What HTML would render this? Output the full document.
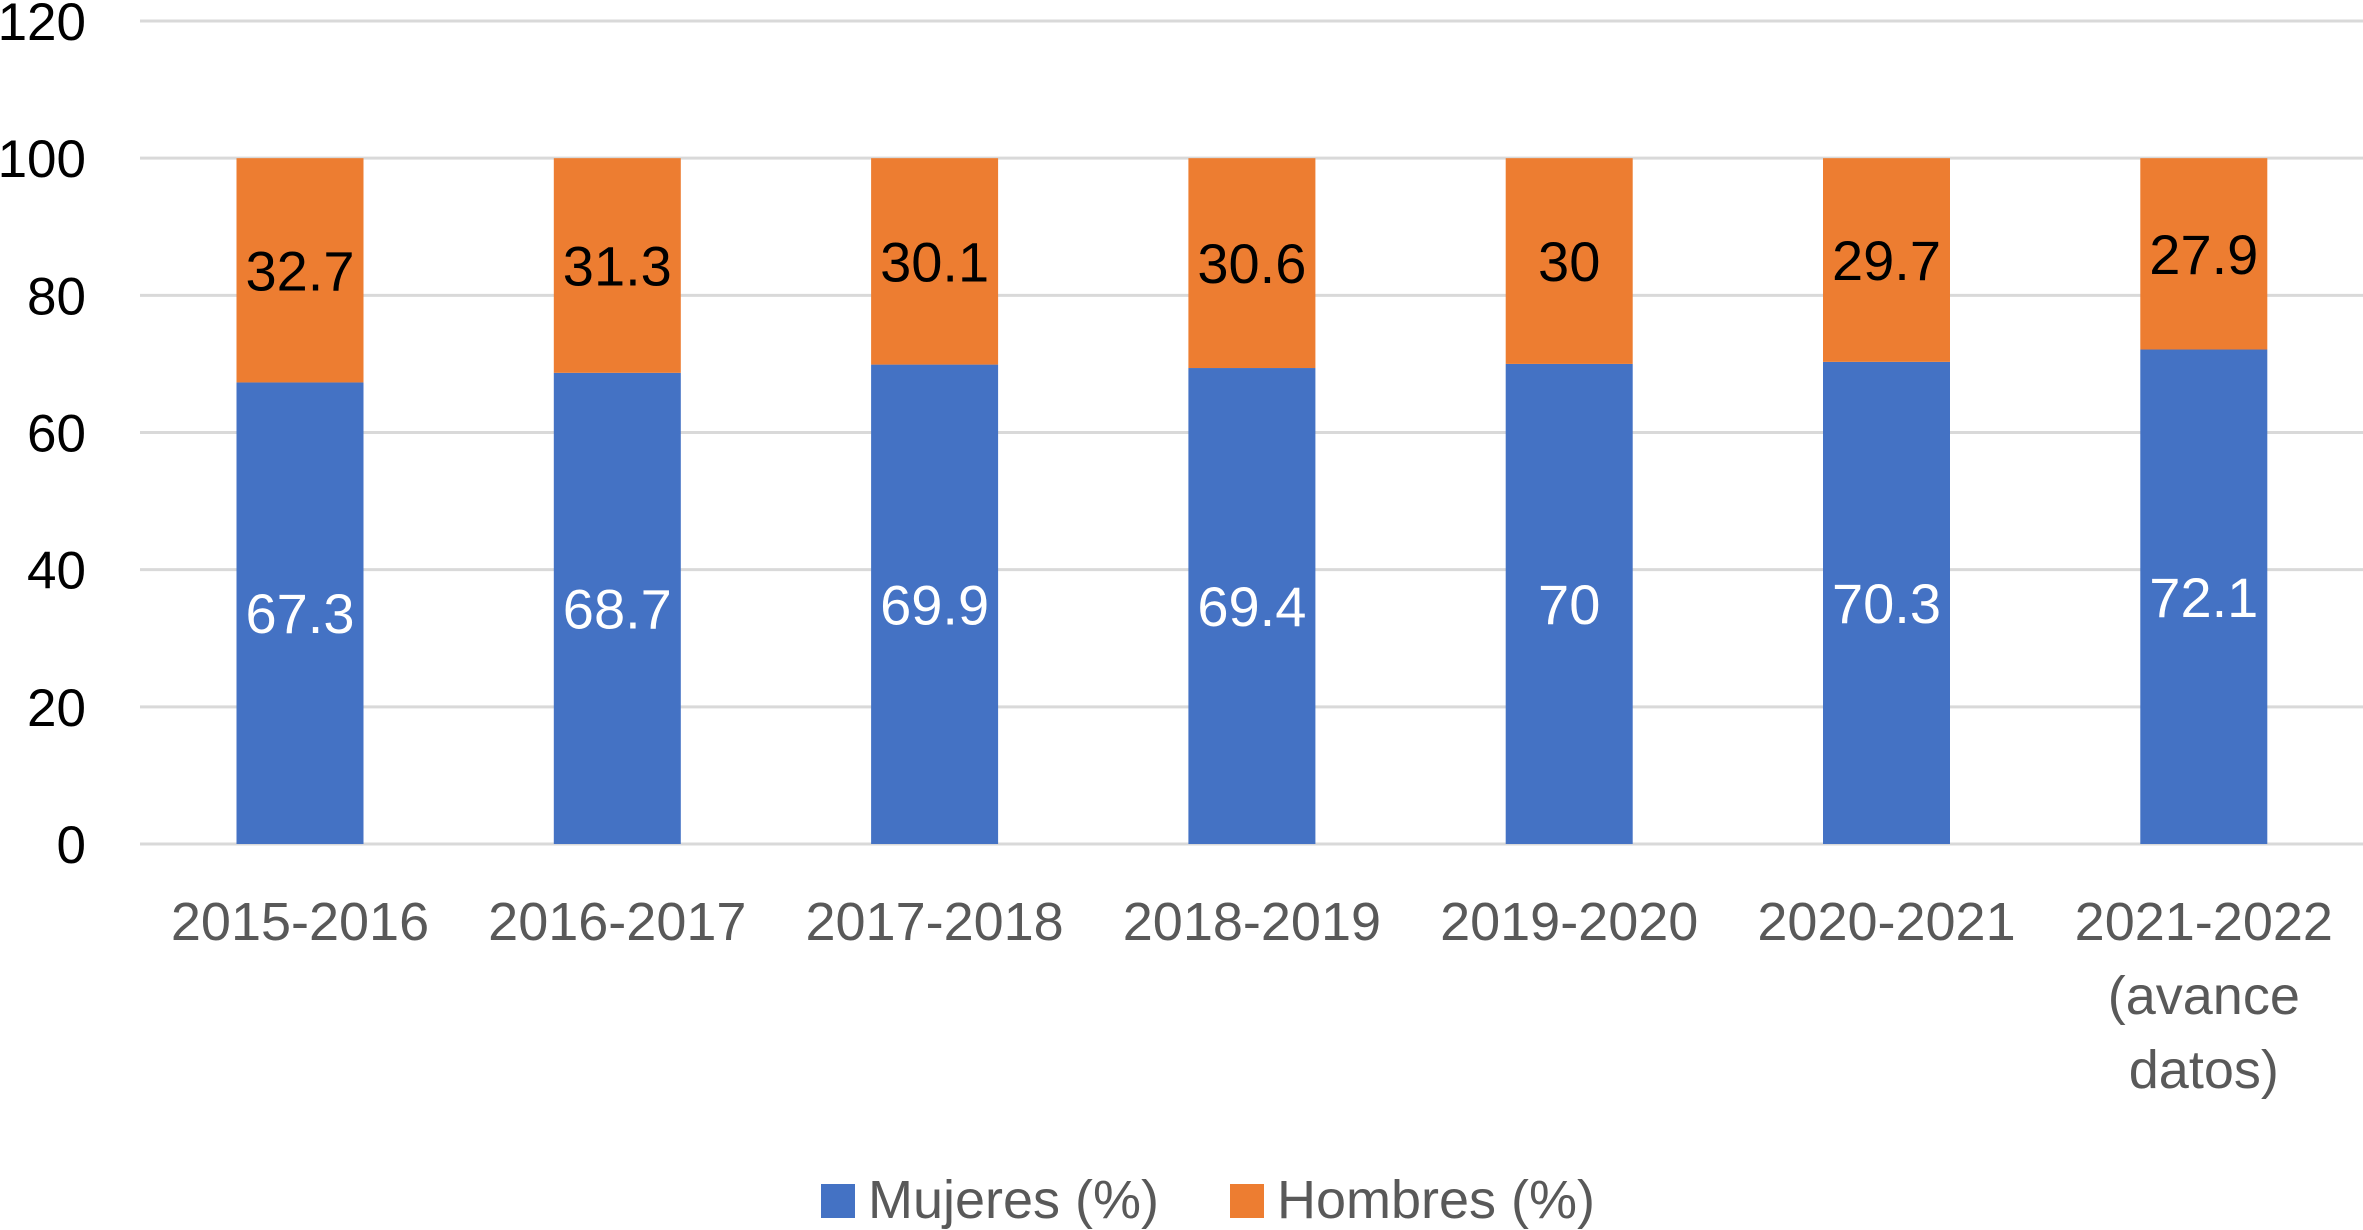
<!DOCTYPE html>
<html><head><meta charset="utf-8"><style>
html,body{margin:0;padding:0;background:#fff;}
svg{display:block;font-family:"Liberation Sans",Arial,sans-serif;}
</style></head><body>
<svg id="chart" width="2363" height="1230" viewBox="0 0 2363 1230" xmlns="http://www.w3.org/2000/svg">
<g id="grid"></g>
<g id="yaxis"></g>
<g id="bars"></g>
<g id="xaxis"></g>
<g>
<rect x="821" y="1184" width="34" height="34" fill="#4472C4"/>
<text x="868" y="1218" font-size="54" fill="#595959">Mujeres (%)</text>
<rect x="1230" y="1184" width="34" height="34" fill="#ED7D31"/>
<text x="1277" y="1218" font-size="54" fill="#595959">Hombres (%)</text>
</g>
</svg>
<script>
const categories = [["2015-2016"],["2016-2017"],["2017-2018"],["2018-2019"],["2019-2020"],["2020-2021"],["2021-2022","(avance","datos)"]];
const mujeres = [67.3,68.7,69.9,69.4,70,70.3,72.1];
const hombres = [32.7,31.3,30.1,30.6,30,29.7,27.9];
const yTicks = [0,20,40,60,80,100,120];

const NS="http://www.w3.org/2000/svg";
const y0=844, y120=21, left=140, right=2363, step=317.3, x0=300, bw=127;
const y = v => y0 - (v/120)*(y0-y120);
const xc = i => x0 + i*step;
function mk(tag, attrs, parent){const e=document.createElementNS(NS,tag);for(const k in attrs)e.setAttribute(k,attrs[k]);parent.appendChild(e);return e;}
const grid=document.getElementById('grid'), yaxis=document.getElementById('yaxis'), bars=document.getElementById('bars'), xaxis=document.getElementById('xaxis');
yTicks.forEach(t=>{
  const l=mk('line',{x1:left,x2:right,y1:y(t),y2:y(t),stroke:'#D9D9D9','stroke-width':3},grid);
  
  
  const tx=mk('text',{x:86,y:y(t)+19,'text-anchor':'end','font-size':53,fill:'#000'},yaxis);
  tx.textContent=t;
  
  
});
categories.forEach((c,i)=>{
  const cx=xc(i);
  const m=mujeres[i], h=hombres[i];
  const rb=mk('rect',{x:cx-bw/2,y:y(m),width:bw,height:y(0)-y(m),fill:'#4472C4'},bars);
  
  
  const ro=mk('rect',{x:cx-bw/2,y:y(m+h),width:bw,height:y(m)-y(m+h),fill:'#ED7D31'},bars);
  
  
  const lm=mk('text',{x:cx,y:y(m/2)+20,'text-anchor':'middle','font-size':56,fill:'#fff'},bars);
  lm.textContent=m;
  
  
  const lh=mk('text',{x:cx,y:y(m+h/2)+20,'text-anchor':'middle','font-size':56,fill:'#000'},bars);
  lh.textContent=h;
  
  
  c.forEach((line,j)=>{
    const t=mk('text',{x:cx,y:940+j*74,'text-anchor':'middle','font-size':54,fill:'#595959'},xaxis);
    t.textContent=line;
    
    
  });
});
</script>
</body></html>
